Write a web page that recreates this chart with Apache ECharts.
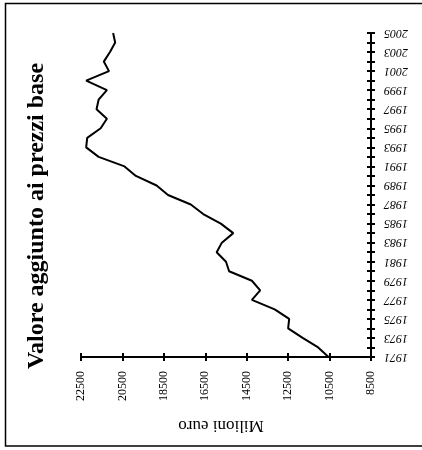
<!DOCTYPE html>
<html>
<head>
<meta charset="utf-8">
<script src="https://cdn.jsdelivr.net/npm/echarts@6/dist/echarts.min.js"></script>
<style>
html,body{margin:0;padding:0;background:#fff;}
#chart{width:422px;height:450px;}
</style>
</head>
<body>
<div id="chart"></div>
<script>
var titleText = 'Valore aggiunto ai prezzi base';
var axisName = 'Milioni euro';
var years = ['1971','1972','1973','1974','1975','1976','1977','1978','1979','1980',
  '1981','1982','1983','1984','1985','1986','1987','1988','1989','1990',
  '1991','1992','1993','1994','1995','1996','1997','1998','1999','2000',
  '2001','2002','2003','2004','2005'];
var values = [10550,11050,11800,12500,12450,13150,14250,13850,14250,15350,
  15500,15950,15700,15150,15750,16600,17200,18300,18850,19850,
  20400,21650,22250,22200,21550,21250,21750,21650,21250,22250,
  21150,21400,21100,20850,20950];
var valueMin = 8500, valueMax = 22500, valueStep = 2000;

var serif = "'Liberation Serif', 'DejaVu Serif', serif";
var chart = echarts.init(document.getElementById('chart'), null, {renderer: 'canvas'});
chart.setOption({
  backgroundColor: '#fff',
  animation: false,
  grid: {left: 81, right: 51, top: 33, bottom: 93, containLabel: false},
  xAxis: [{
    type: 'value', inverse: true, min: valueMin, max: valueMax, interval: valueStep,
    position: 'bottom',
    splitLine: {show: false},
    axisLine: {show: true, lineStyle: {color: '#000', width: 2}},
    axisTick: {show: true, inside: false, length: 4, lineStyle: {color: '#000', width: 2}},
    axisLabel: {show: true, rotate: 90, margin: 14, color: '#000', fontSize: 12, fontFamily: serif,
      formatter: function (v) { return String(v); }}
  }, {
    type: 'value', inverse: true, min: valueMin, max: valueMax, interval: valueStep,
    position: 'bottom', gridIndex: 0,
    splitLine: {show: false},
    axisLine: {show: false},
    axisTick: {show: true, inside: true, length: 4, lineStyle: {color: '#000', width: 2}},
    axisLabel: {show: false}
  }],
  yAxis: [{
    type: 'category', data: years, boundaryGap: false, position: 'right',
    axisLine: {show: true, lineStyle: {color: '#000', width: 2}},
    axisTick: {show: true, inside: false, length: 4, interval: 0, lineStyle: {color: '#000', width: 2}},
    axisLabel: {show: true, interval: 1, rotate: 180, align: 'right', verticalAlign: 'middle',
      margin: 13, color: '#000', fontSize: 12, fontStyle: 'italic', fontFamily: serif},
    splitLine: {show: false}
  }, {
    type: 'category', data: years, boundaryGap: false, position: 'right',
    axisLine: {show: false},
    axisTick: {show: true, inside: true, length: 4, interval: 0, lineStyle: {color: '#000', width: 2}},
    axisLabel: {show: false},
    splitLine: {show: false}
  }],
  series: [{
    type: 'line', data: values, xAxisIndex: 0, yAxisIndex: 0,
    showSymbol: false, symbol: 'none', smooth: false,
    lineStyle: {color: '#000', width: 2}
  }],
  graphic: [{
    type: 'rect', silent: true,
    shape: {x: 5.5, y: 3.5, width: 440, height: 442.5},
    style: {fill: 'none', stroke: '#000', lineWidth: 1.5}
  }, {
    type: 'text', x: 37, y: 216, rotation: Math.PI / 2,
    style: {text: titleText, fill: '#000', font: 'bold 24px ' + serif, align: 'center', verticalAlign: 'middle'}
  }, {
    type: 'text', x: 221, y: 425, rotation: Math.PI,
    style: {text: axisName, fill: '#000', font: '17px ' + serif, align: 'center', verticalAlign: 'middle'}
  }]
});
</script>
</body>
</html>
